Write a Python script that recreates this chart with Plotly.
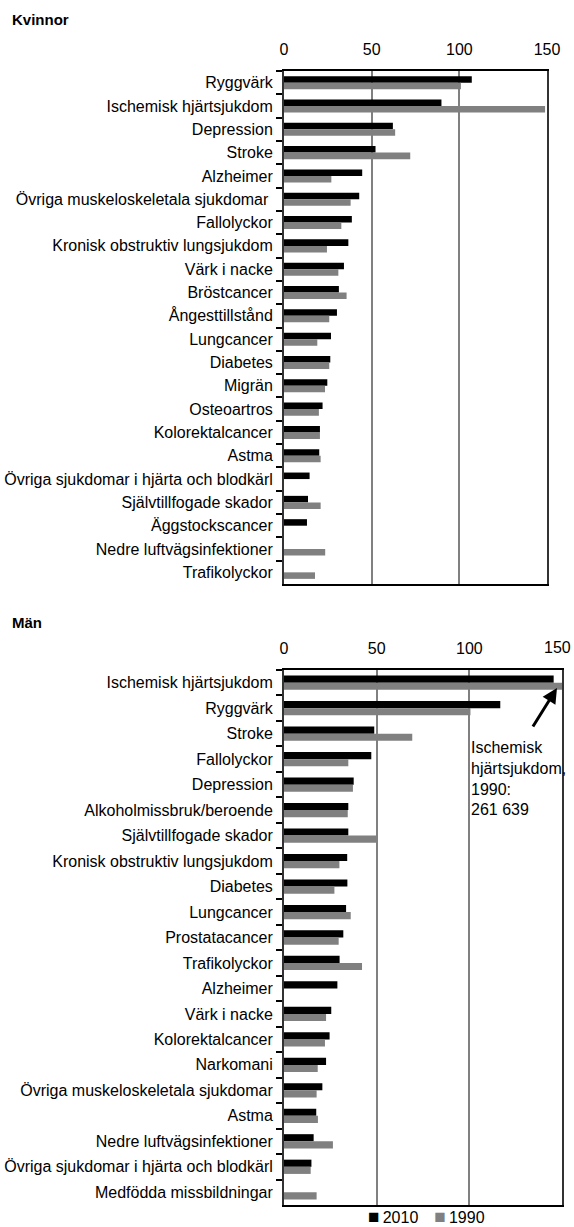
import plotly.graph_objects as go

W, H = 574, 1227

# --- Kvinnor (women) ---
cat_k = ["Ryggvärk", "Ischemisk hjärtsjukdom", "Depression", "Stroke", "Alzheimer",
         "Övriga muskeloskeletala sjukdomar\u00a0", "Fallolyckor", "Kronisk obstruktiv lungsjukdom",
         "Värk i nacke", "Bröstcancer", "Ångesttillstånd", "Lungcancer", "Diabetes", "Migrän",
         "Osteoartros", "Kolorektalcancer", "Astma", "Övriga sjukdomar i hjärta och blodkärl",
         "Självtillfogade skador", "Äggstockscancer", "Nedre luftvägsinfektioner", "Trafikolyckor"]
k2010 = [107.1, 89.8, 62.1, 52.2, 44.6, 42.9, 38.7, 36.7, 34.2, 31.3, 30.2, 26.8, 26.4, 24.7,
         22.0, 20.5, 20.1, 14.6, 13.7, 13.1, None, None]
k1990 = [100.9, 148.9, 63.4, 72.0, 27.0, 38.0, 32.7, 24.5, 31.0, 35.7, 25.8, 19.0, 25.8, 23.4,
         19.9, 20.5, 20.9, None, 20.9, None, 23.5, 17.7]

# --- Män (men) ---
cat_m = ["Ischemisk hjärtsjukdom", "Ryggvärk", "Stroke", "Fallolyckor", "Depression",
         "Alkoholmissbruk/beroende", "Självtillfogade skador", "Kronisk obstruktiv lungsjukdom",
         "Diabetes", "Lungcancer", "Prostatacancer", "Trafikolyckor", "Alzheimer", "Värk i nacke",
         "Kolorektalcancer", "Narkomani", "Övriga muskeloskeletala sjukdomar", "Astma",
         "Nedre luftvägsinfektioner", "Övriga sjukdomar i hjärta och blodkärl", "Medfödda missbildningar"]
m2010 = [145.5, 116.7, 48.7, 47.1, 37.6, 34.7, 34.7, 34.1, 34.2, 33.5, 32.0, 30.0, 28.8, 25.5,
         24.6, 22.7, 20.7, 17.4, 16.0, 14.8, None]
m1990 = [261.639, 100.6, 69.2, 34.7, 37.2, 34.4, 49.8, 29.9, 27.2, 36.0, 29.5, 42.1, None, 22.7,
         22.1, 18.2, 17.6, 18.3, 26.4, 14.4, 17.6]

x_ticks = [0, 50, 100, 150]
x_max = 150
series_names = ["2010", "1990"]
colors = ["#000000", "#808080"]

FONT = "Liberation Sans, Arial, sans-serif"

fig = go.Figure()
for i, vals in enumerate([k2010, k1990]):
    fig.add_trace(go.Bar(y=cat_k, x=vals, orientation="h", name=series_names[i],
                         marker_color=colors[i], marker_line_width=0, xaxis="x", yaxis="y",
                         showlegend=False))
for i, vals in enumerate([m2010, m1990]):
    fig.add_trace(go.Bar(y=cat_m, x=vals, orientation="h", name=series_names[i],
                         marker_color=colors[i], marker_line_width=0, xaxis="x2", yaxis="y2",
                         showlegend=False))

def px_x(p):
    return p / W

def px_y(p):
    return 1 - p / H

xcommon = dict(range=[0, x_max], side="top", tickmode="array", ticks="",
               showgrid=True, gridcolor="#808080", gridwidth=2, showline=True,
               linecolor="#000000", linewidth=1.5, mirror=True, zeroline=False,
               fixedrange=True, automargin=False, ticklabeloverflow="allow",
               tickfont=dict(family=FONT, size=16, color="#000"), ticklabelstandoff=8)
ycommon = dict(type="category", autorange="reversed", tickson="boundaries", ticks="outside",
               ticklen=6, tickcolor="#000", tickwidth=1.5, showline=True, linecolor="#333333",
               linewidth=2, mirror=True, showgrid=False, automargin=False, fixedrange=True,
               tickfont=dict(family=FONT, size=16, color="#000"), ticklabelstandoff=6)

fig.update_layout(
    width=W, height=H,
    margin=dict(l=0, r=0, t=0, b=0, autoexpand=False),
    paper_bgcolor="white", plot_bgcolor="white",
    barmode="group", bargap=0.44, bargroupgap=0,
    xaxis=dict(domain=[px_x(284), px_x(547)], anchor="y", tickvals=x_ticks, **xcommon),
    yaxis=dict(domain=[px_y(584), px_y(71)], anchor="x", **ycommon),
    # last label of the lower chart is drawn as an annotation, nudged inside the page
    xaxis2=dict(domain=[px_x(284), px_x(562)], anchor="y2", tickvals=x_ticks[:-1], **xcommon),
    yaxis2=dict(domain=[px_y(1205), px_y(670)], anchor="x2", **ycommon),
    showlegend=False,
)

fig.add_annotation(text=str(x_ticks[-1]), x=px_x(557), y=px_y(647), xref="paper", yref="paper",
                   xanchor="center", yanchor="middle", showarrow=False,
                   font=dict(family=FONT, size=16, color="#000"))

fig.add_annotation(text="<b>Kvinnor</b>", x=px_x(10), y=px_y(20), xref="paper", yref="paper",
                   xanchor="left", yanchor="middle", showarrow=False,
                   font=dict(family=FONT, size=15, color="#000"))
fig.add_annotation(text="<b>Män</b>", x=px_x(10), y=px_y(622), xref="paper", yref="paper",
                   xanchor="left", yanchor="middle", showarrow=False,
                   font=dict(family=FONT, size=15, color="#000"))

fig.add_annotation(text="Ischemisk<br>hjärtsjukdom,<br>1990:<br>261 639", x=px_x(469), y=px_y(737),
                   xref="paper", yref="paper", xanchor="left", yanchor="top", align="left",
                   showarrow=False, font=dict(family=FONT, size=16, color="#000"))
fig.add_annotation(text="", x=px_x(557), y=px_y(688), xref="paper", yref="paper",
                   ax=-25, ay=40, showarrow=True, arrowhead=2, arrowsize=1, arrowwidth=3,
                   arrowcolor="#000", standoff=0)

# legend (compact, as in the reference)
legend_text = "\u2002\u2002".join(
    f'<span style="color:{c};font-size:19px">■</span>\u2009{n}' for c, n in zip(colors, series_names))
fig.add_annotation(text=legend_text, x=px_x(426), y=px_y(1216), xref="paper", yref="paper",
                   xanchor="center", yanchor="middle", showarrow=False,
                   font=dict(family=FONT, size=16, color="#000"))

fig.write_html("out.html", config={"displayModeBar": False},
               post_script="document.body.style.margin='0';")
